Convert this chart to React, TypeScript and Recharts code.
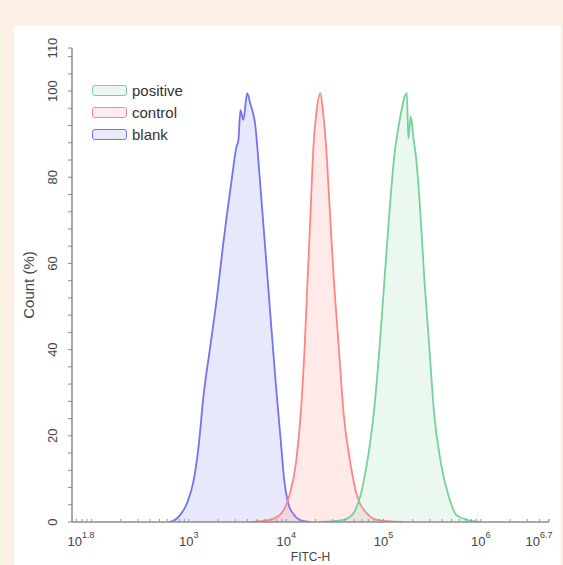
import React from "react";
import { ComposedChart, Area, XAxis, YAxis, Legend, Label } from "recharts";

// log10(FITC-H) positions and Count (%) values
const blankX = [2.8, 2.86, 2.91, 2.98, 3.05, 3.1, 3.15, 3.22, 3.29, 3.35, 3.44, 3.49, 3.51, 3.53, 3.56, 3.6, 3.63, 3.66, 3.68, 3.73, 3.81, 3.89, 3.95, 3.98, 4.02, 4.07, 4.14, 4.25];
const blankY = [0, 0.5, 1.6, 4.3, 9.7, 17.5, 29.1, 40.7, 52.3, 63.9, 79.4, 87.1, 88.7, 95.6, 93.3, 99.5, 97.2, 94.9, 92.5, 79.4, 56.2, 33, 17.4, 9.7, 4.4, 2, 0.5, 0];

const controlX = [3.63, 3.83, 3.95, 4.03, 4.1, 4.15, 4.19, 4.22, 4.25, 4.28, 4.31, 4.35, 4.38, 4.41, 4.45, 4.49, 4.54, 4.59, 4.66, 4.73, 4.83, 4.93, 5.2];
const controlY = [0, 0.5, 2.0, 5.9, 13.6, 25.2, 40.7, 56.2, 71.6, 87.1, 94.9, 99.5, 94.9, 87.1, 71.6, 56.2, 40.7, 25.2, 13.6, 5.9, 2.0, 0.5, 0];

const positiveX = [4.35, 4.59, 4.69, 4.76, 4.83, 4.9, 4.96, 5.01, 5.06, 5.11, 5.16, 5.24, 5.255, 5.28, 5.31, 5.335, 5.375, 5.42, 5.47, 5.52, 5.59, 5.67, 5.75, 5.86, 6.0];
const positiveY = [0, 0.5, 2, 5.9, 13.6, 25.2, 40.7, 56.2, 71.6, 84.8, 92.5, 99.5, 89.0, 94.1, 88.7, 84.5, 73, 56.2, 40.7, 25.2, 13.6, 5.9, 1.6, 0.5, 0];

const seriesNames = ["positive", "control", "blank"];
const seriesColors = ["#74d29c", "#ff8585", "#7272f4"];

const xMajorTicks = [1.8, 3, 4, 5, 6, 6.7];
const xMajorLabels = ["1.8", "3", "4", "5", "6", "6.7"];
const yMajorTicks = [0, 20, 40, 60, 80, 100, 110];

const xAllTicks: number[] = (() => {
  const out: number[] = [...xMajorTicks];
  for (let n = 1; n <= 6; n++) {
    for (let k = 1; k <= 9; k++) {
      const v = Math.log10(k * Math.pow(10, n));
      if (v > 1.8 && v < 6.7 && !out.some((t) => Math.abs(t - v) < 1e-6)) out.push(v);
    }
  }
  return out.sort((a, b) => a - b);
})();

const yAllTicks: number[] = (() => {
  const out: number[] = [];
  for (let v = 0; v <= 108; v += 4) out.push(v);
  out.push(110);
  return out;
})();

const table = (() => {
  const rows = new Map<number, any>();
  const add = (xs: number[], ys: number[], key: string) => {
    xs.forEach((x, i) => {
      const r = rows.get(x) ?? { x };
      r[key] = ys[i];
      rows.set(x, r);
    });
  };
  add(blankX, blankY, "blank");
  add(controlX, controlY, "control");
  add(positiveX, positiveY, "positive");
  return [...rows.values()].sort((a, b) => a.x - b.x);
})();

const FONT = "'Liberation Sans', Arial, sans-serif";

const XTick = (props: any) => {
  const { x, y, payload } = props;
  const v = payload.value;
  const idx = xMajorTicks.findIndex((t) => Math.abs(t - v) < 1e-6);
  const shift = idx === 0 ? 9 : idx === xMajorTicks.length - 1 ? -10 : 0;
  return (
    <g>
      <line x1={x} x2={x} y1={y} y2={y - 3} stroke="#999" strokeWidth={1} />
      {idx >= 0 && (
        <text x={x + shift} y={y + 24} textAnchor="middle" fontSize={13} fill="#444" fontFamily={FONT}>
          10
          <tspan dy={-8} fontSize={9}>{xMajorLabels[idx]}</tspan>
        </text>
      )}
    </g>
  );
};

const YTick = (props: any) => {
  const { x, y, payload } = props;
  const v = payload.value;
  const major = yMajorTicks.includes(v);
  const cx = 57;
  return (
    <g>
      <line x1={x - 4} x2={x} y1={y} y2={y} stroke="#888" strokeWidth={1} />
      {major && (
        <text
          x={cx}
          y={y}
          textAnchor="middle"
          fontSize={13}
          fill="#444"
          fontFamily={FONT}
          transform={`rotate(-90, ${cx}, ${y})`}
        >
          {v}
        </text>
      )}
    </g>
  );
};

const renderLegend = () => (
  <div style={{ fontFamily: FONT, fontSize: 15, color: "#333" }}>
    {seriesNames.map((name, i) => (
      <div key={name} style={{ display: "flex", alignItems: "center", height: 22 }}>
        <div
          style={{
            width: 33,
            height: 9,
            border: `1.5px solid ${seriesColors[i]}`,
            borderRadius: 3,
            background: seriesColors[i] + "26",
            marginRight: 5,
          }}
        />
        <span>{name}</span>
      </div>
    ))}
  </div>
);

export default function App() {
  return (
    <div style={{ position: "absolute", left: 0, top: 0, width: 563, height: 565, background: "#fdf1e6", overflow: "hidden" }}>
      <div style={{ position: "absolute", left: 14, top: 26, width: 547, height: 539, background: "#ffffff" }} />
      <div style={{ position: "absolute", left: 0, top: 0 }}>
        <ComposedChart width={563} height={565} data={table} margin={{ top: 48, right: 14, left: 0, bottom: 0 }}>
          <XAxis
            dataKey="x"
            type="number"
            domain={[1.8, 6.7]}
            ticks={xAllTicks}
            interval={0}
            allowDataOverflow
            tickLine={false}
            tickSize={0}
            tickMargin={0}
            height={43}
            axisLine={{ stroke: "#8c8c8c", strokeWidth: 1.5 }}
            tick={<XTick />}
          >
            <Label value="FITC-H" position="insideBottom" offset={4} fontSize={12} fill="#444" fontFamily={FONT} />
          </XAxis>
          <XAxis
            xAxisId="top"
            orientation="top"
            type="number"
            domain={[1.8, 6.7]}
            height={0}
            tick={false}
            tickLine={false}
            axisLine={{ stroke: "#b8b8b8", strokeWidth: 2 }}
          />
          <YAxis
            type="number"
            domain={[0, 110]}
            ticks={yAllTicks}
            interval={0}
            allowDataOverflow
            width={72}
            tickLine={false}
            tickSize={0}
            tickMargin={0}
            axisLine={{ stroke: "#8c8c8c", strokeWidth: 1.5 }}
            tick={<YTick />}
          >
            <Label
              value="Count (%)"
              angle={-90}
              position="insideLeft"
              offset={29}
              fontSize={15}
              fill="#444"
              fontFamily={FONT}
              style={{ textAnchor: "middle" }}
            />
          </YAxis>
          <YAxis
            yAxisId="right"
            orientation="right"
            type="number"
            domain={[0, 110]}
            width={0}
            tick={false}
            tickLine={false}
            axisLine={{ stroke: "#b8b8b8", strokeWidth: 2 }}
          />
          <Legend
            content={renderLegend}
            layout="vertical"
            align="center"
            verticalAlign="middle"
            wrapperStyle={{ left: 92, top: 79, width: 130 }}
          />
          <Area
            dataKey="blank"
            name="blank"
            type="monotone"
            connectNulls
            stroke={seriesColors[2]}
            strokeWidth={1.8}
            fill={seriesColors[2]}
            fillOpacity={0.16}
            isAnimationActive={false}
            dot={false}
            activeDot={false}
          />
          <Area
            dataKey="control"
            name="control"
            type="monotone"
            connectNulls
            stroke={seriesColors[1]}
            strokeWidth={1.8}
            fill={seriesColors[1]}
            fillOpacity={0.18}
            isAnimationActive={false}
            dot={false}
            activeDot={false}
          />
          <Area
            dataKey="positive"
            name="positive"
            type="monotone"
            connectNulls
            stroke={seriesColors[0]}
            strokeWidth={1.8}
            fill={seriesColors[0]}
            fillOpacity={0.15}
            isAnimationActive={false}
            dot={false}
            activeDot={false}
          />
        </ComposedChart>
      </div>
    </div>
  );
}
